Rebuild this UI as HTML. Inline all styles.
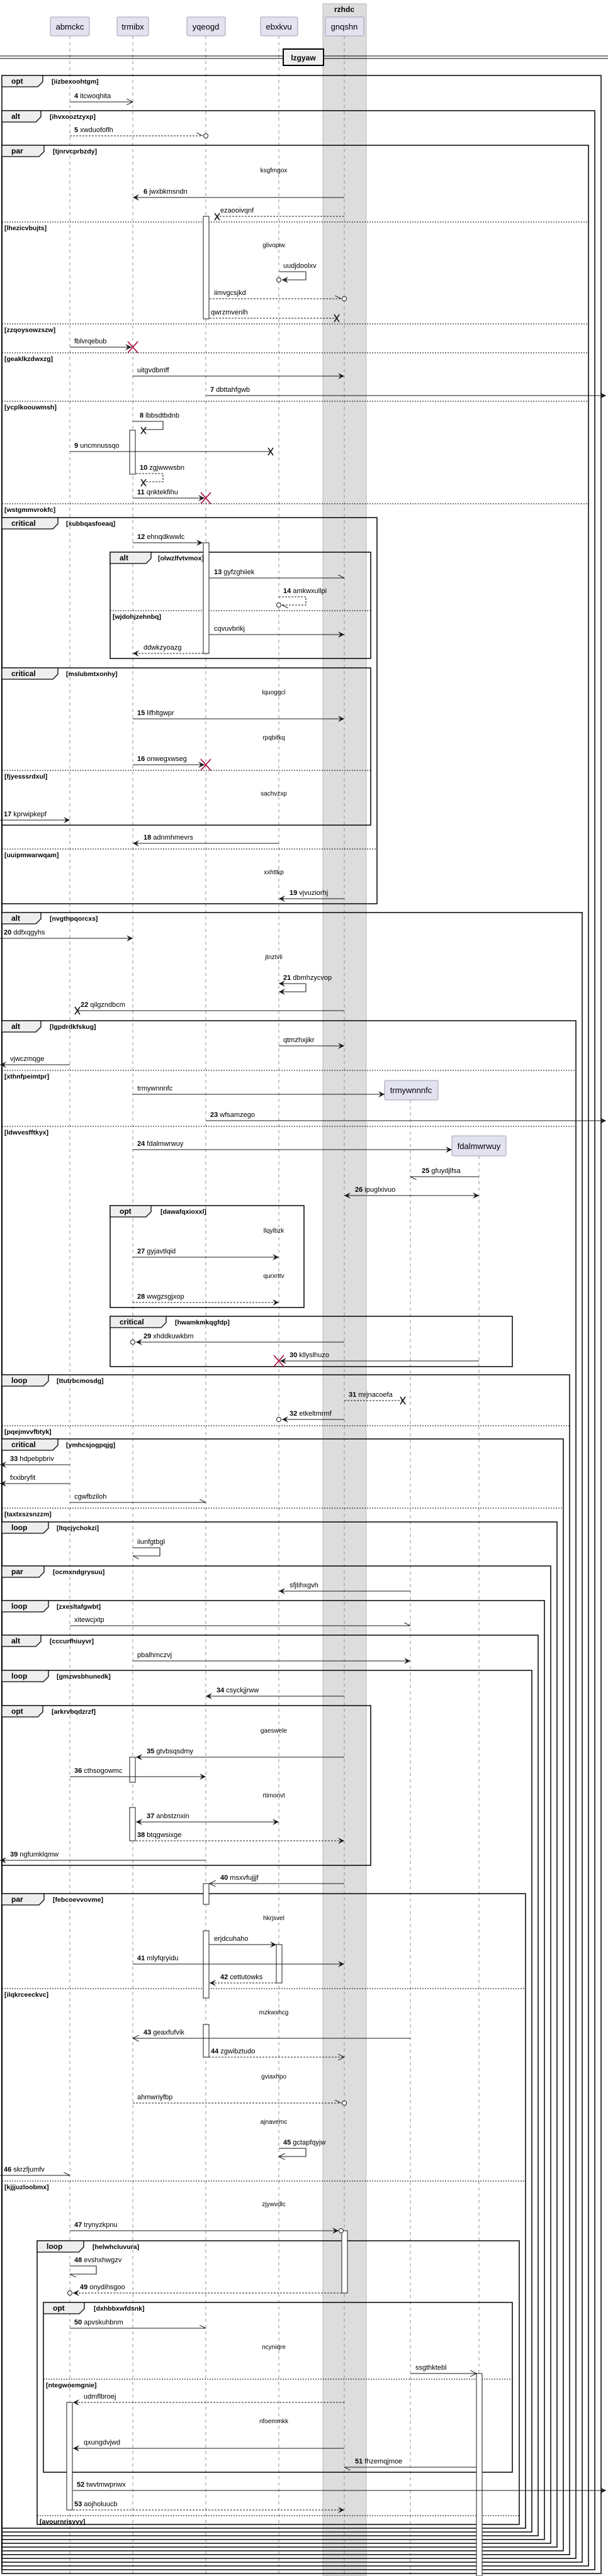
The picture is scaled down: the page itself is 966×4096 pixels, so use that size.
<!DOCTYPE html>
<html><head><meta charset="utf-8"><style>
html,body{margin:0;padding:0;background:#fff}
svg{display:block}
text{font-family:"Liberation Sans",sans-serif;fill:#000}
.m{font-size:11px}
.dl{font-size:10px;text-anchor:middle}
.fk{font-size:12px;font-weight:bold}
.fc{font-size:10.5px;font-weight:bold}
.l{stroke:#181818;stroke-width:1.1;fill:none}
.d{stroke-dasharray:3,2}
.fr{fill:none;stroke:#000;stroke-width:1.5}
.sep{stroke:#000;stroke-width:1;stroke-dasharray:2,2}
.tab{fill:#eee;stroke:#000;stroke-width:1.3}
.ll{stroke:#777;stroke-width:0.8;stroke-dasharray:5,5}
.act{fill:#fff;stroke:#181818;stroke-width:1}
.x{stroke:#181818;stroke-width:1.6}
.rx{stroke:#a80036;stroke-width:1.6}
.hd{fill:#e2e2f0;stroke:#a0a0b0;stroke-width:1}
.ht{font-size:13px;text-anchor:middle}
</style></head><body>
<svg width="966" height="4096" viewBox="0 0 966 4096" xmlns="http://www.w3.org/2000/svg">
<defs>
<marker id="f" markerUnits="userSpaceOnUse" markerWidth="12" markerHeight="10" refX="10" refY="5" orient="auto"><path d="M0,0 L10,5 L0,10 L4,5 Z" fill="#181818"/></marker>
<marker id="fs" markerUnits="userSpaceOnUse" markerWidth="12" markerHeight="10" refX="0" refY="5" orient="auto"><path d="M10,0 L0,5 L10,10 L6,5 Z" fill="#181818"/></marker>
<marker id="o" markerUnits="userSpaceOnUse" markerWidth="12" markerHeight="10" refX="10" refY="5" orient="auto"><path d="M0,0 L10,5 L0,10" fill="none" stroke="#181818" stroke-width="1"/></marker>
<marker id="h" markerUnits="userSpaceOnUse" markerWidth="12" markerHeight="10" refX="10" refY="5" orient="auto"><path d="M0,0 L10,5" fill="none" stroke="#181818" stroke-width="1"/></marker>
</defs>

<!-- box rzhdc -->
<rect x="513" y="6" width="69" height="4090" fill="#ddd" stroke="#aaa" stroke-width="0.8"/>
<text x="547" y="19" class="fk" text-anchor="middle">rzhdc</text>

<!-- lifelines -->
<line class="ll" x1="111" y1="57" x2="111" y2="4096"/>
<line class="ll" x1="211" y1="57" x2="211" y2="4096"/>
<line class="ll" x1="327" y1="57" x2="327" y2="4096"/>
<line class="ll" x1="443" y1="57" x2="443" y2="4096"/>
<line class="ll" x1="547" y1="57" x2="547" y2="4096"/>
<line class="ll" x1="652" y1="1749" x2="652" y2="4096"/>
<line class="ll" x1="761" y1="1838" x2="761" y2="4096"/>

<!-- headers -->
<rect class="hd" x="80" y="27" width="62" height="30" rx="2"/><text class="ht" x="111" y="47">abmckc</text>
<rect class="hd" x="186" y="27" width="50" height="30" rx="2"/><text class="ht" x="211" y="47">trmibx</text>
<rect class="hd" x="297" y="27" width="61" height="30" rx="2"/><text class="ht" x="327" y="47">yqeogd</text>
<rect class="hd" x="414" y="27" width="59" height="30" rx="2"/><text class="ht" x="443" y="47">ebxkvu</text>
<rect class="hd" x="517" y="27" width="61" height="30" rx="2"/><text class="ht" x="547" y="47">gnqshn</text>

<!-- divider -->
<line x1="0" y1="89" x2="966" y2="89" stroke="#000" stroke-width="1"/>
<line x1="0" y1="93" x2="966" y2="93" stroke="#000" stroke-width="1"/>
<rect x="450" y="78" width="64" height="26" fill="#eee" stroke="#000" stroke-width="2"/>
<text x="482" y="96" class="fk" text-anchor="middle">lzgyaw</text>

<!-- main nested frames -->
<rect class="fr" x="3" y="120" width="952" height="3972"/>
<rect class="fr" x="3" y="176" width="942" height="3910"/>
<rect class="fr" x="3" y="231" width="932" height="3849"/>
<rect class="fr" x="3" y="1451" width="922" height="2623"/>
<rect class="fr" x="3" y="1623" width="912" height="2445"/>
<rect class="fr" x="3" y="2186" width="902" height="1876"/>
<rect class="fr" x="3" y="2288" width="892" height="1768"/>
<rect class="fr" x="3" y="2420" width="882" height="1630"/>
<rect class="fr" x="3" y="2490" width="872" height="1554"/>
<rect class="fr" x="3" y="2545" width="862" height="1493"/>
<rect class="fr" x="3" y="2600" width="852" height="1432"/>
<rect class="fr" x="3" y="2656" width="842" height="1370"/>
<rect class="fr" x="3" y="3011" width="832" height="1009"/>
<!-- inner frames -->
<rect class="fr" x="3" y="823" width="596" height="614"/>
<rect class="fr" x="175" y="878" width="414" height="169"/>
<rect class="fr" x="3" y="1062" width="586" height="250"/>
<rect class="fr" x="175" y="1917" width="308" height="162"/>
<rect class="fr" x="175" y="2093" width="639" height="80"/>
<rect class="fr" x="3" y="2712" width="586" height="254"/>
<rect class="fr" x="59" y="3563" width="766" height="451"/>
<rect class="fr" x="69" y="3661" width="745" height="270"/>

<!-- tabs -->
<g>
<polygon class="tab" points="3,120 68,120 68,130 60,138 3,138"/><text class="fk" x="18" y="133">opt</text><text class="fc" x="82" y="133">[iizbexoohtgm]</text>
<polygon class="tab" points="3,176 65,176 65,186 57,194 3,194"/><text class="fk" x="18" y="189">alt</text><text class="fc" x="79" y="189">[ihvxooztzyxp]</text>
<polygon class="tab" points="3,231 70,231 70,241 62,249 3,249"/><text class="fk" x="18" y="244">par</text><text class="fc" x="84" y="244">[tjnrvcprbzdy]</text>
<polygon class="tab" points="3,823 92,823 92,833 84,841 3,841"/><text class="fk" x="18" y="836">critical</text><text class="fc" x="105" y="836">[xubbqasfoeaq]</text>
<polygon class="tab" points="175,878 240,878 240,888 232,896 175,896"/><text class="fk" x="190" y="891">alt</text><text class="fc" x="251" y="891">[olwzlfvtvmox]</text>
<polygon class="tab" points="3,1062 92,1062 92,1072 84,1080 3,1080"/><text class="fk" x="18" y="1075">critical</text><text class="fc" x="105" y="1075">[mslubmtxonhy]</text>
<polygon class="tab" points="3,1451 65,1451 65,1461 57,1469 3,1469"/><text class="fk" x="18" y="1464">alt</text><text class="fc" x="79" y="1464">[nvgthpqorcxs]</text>
<polygon class="tab" points="3,1623 65,1623 65,1633 57,1641 3,1641"/><text class="fk" x="18" y="1636">alt</text><text class="fc" x="79" y="1636">[lgpdrdkfskug]</text>
<polygon class="tab" points="175,1917 240,1917 240,1927 232,1935 175,1935"/><text class="fk" x="190" y="1930">opt</text><text class="fc" x="255" y="1930">[dawafqxioxxl]</text>
<polygon class="tab" points="175,2093 264,2093 264,2103 256,2111 175,2111"/><text class="fk" x="190" y="2106">critical</text><text class="fc" x="278" y="2106">[hwamkmkqgfdp]</text>
<polygon class="tab" points="3,2186 77,2186 77,2196 69,2204 3,2204"/><text class="fk" x="18" y="2199">loop</text><text class="fc" x="90" y="2199">[ttutrbcmosdg]</text>
<polygon class="tab" points="3,2288 92,2288 92,2298 84,2306 3,2306"/><text class="fk" x="18" y="2301">critical</text><text class="fc" x="105" y="2301">[ymhcsjogpqjg]</text>
<polygon class="tab" points="3,2420 77,2420 77,2430 69,2438 3,2438"/><text class="fk" x="18" y="2433">loop</text><text class="fc" x="90" y="2433">[ltqcjychokzi]</text>
<polygon class="tab" points="3,2490 70,2490 70,2500 62,2508 3,2508"/><text class="fk" x="18" y="2503">par</text><text class="fc" x="84" y="2503">[ocmxndgrysuu]</text>
<polygon class="tab" points="3,2545 77,2545 77,2555 69,2563 3,2563"/><text class="fk" x="18" y="2558">loop</text><text class="fc" x="90" y="2558">[zxesltafgwbt]</text>
<polygon class="tab" points="3,2600 65,2600 65,2610 57,2618 3,2618"/><text class="fk" x="18" y="2613">alt</text><text class="fc" x="79" y="2613">[cccurfhiuyvr]</text>
<polygon class="tab" points="3,2656 77,2656 77,2666 69,2674 3,2674"/><text class="fk" x="18" y="2669">loop</text><text class="fc" x="90" y="2669">[gmzwsbhunedk]</text>
<polygon class="tab" points="3,2712 68,2712 68,2722 60,2730 3,2730"/><text class="fk" x="18" y="2725">opt</text><text class="fc" x="82" y="2725">[arkrvbqdzrzf]</text>
<polygon class="tab" points="3,3011 70,3011 70,3021 62,3029 3,3029"/><text class="fk" x="18" y="3024">par</text><text class="fc" x="84" y="3024">[febcoevvovme]</text>
<polygon class="tab" points="59,3563 133,3563 133,3573 125,3581 59,3581"/><text class="fk" x="74" y="3576">loop</text><text class="fc" x="147" y="3576">[helwhcluvura]</text>
<polygon class="tab" points="69,3661 134,3661 134,3671 126,3679 69,3679"/><text class="fk" x="84" y="3674">opt</text><text class="fc" x="149" y="3674">[dxhbbxwfdsnk]</text>
</g>

<!-- separators -->
<g>
<line class="sep" x1="3" y1="353" x2="935" y2="353"/><text class="fc" x="7" y="366">[lhezicvbujts]</text>
<line class="sep" x1="3" y1="515" x2="935" y2="515"/><text class="fc" x="7" y="528">[zzqoysowzszw]</text>
<line class="sep" x1="3" y1="561" x2="935" y2="561"/><text class="fc" x="7" y="574">[geaklkzdwxzg]</text>
<line class="sep" x1="3" y1="638" x2="935" y2="638"/><text class="fc" x="7" y="651">[ycplkoouwmsh]</text>
<line class="sep" x1="3" y1="801" x2="935" y2="801"/><text class="fc" x="7" y="814">[wstgmmvrokfc]</text>
<line class="sep" x1="175" y1="971" x2="589" y2="971"/><text class="fc" x="179" y="984">[wjdohjzehnbq]</text>
<line class="sep" x1="3" y1="1225" x2="589" y2="1225"/><text class="fc" x="7" y="1238">[fjyesssrdxul]</text>
<line class="sep" x1="3" y1="1350" x2="599" y2="1350"/><text class="fc" x="7" y="1363">[uuipmwarwqam]</text>
<line class="sep" x1="3" y1="1702" x2="915" y2="1702"/><text class="fc" x="7" y="1715">[xthnfpeimtpr]</text>
<line class="sep" x1="3" y1="1791" x2="915" y2="1791"/><text class="fc" x="7" y="1804">[ldwvesfftkyx]</text>
<line class="sep" x1="3" y1="2267" x2="905" y2="2267"/><text class="fc" x="7" y="2280">[pqejmvvfbtyk]</text>
<line class="sep" x1="3" y1="2398" x2="895" y2="2398"/><text class="fc" x="7" y="2411">[taxtxszsnzzm]</text>
<line class="sep" x1="3" y1="3162" x2="835" y2="3162"/><text class="fc" x="7" y="3175">[ilqkrceeckvc]</text>
<line class="sep" x1="3" y1="3468" x2="835" y2="3468"/><text class="fc" x="7" y="3481">[kjjjuzloobmx]</text>
<line class="sep" x1="69" y1="3783" x2="814" y2="3783"/><text class="fc" x="73" y="3796">[ntegwoemgnie]</text>
<line class="sep" x1="59" y1="4000" x2="825" y2="4000"/><text class="fc" x="63" y="4013">[avournrisyvy]</text>
</g>

<!-- activations -->
<rect class="act" x="323" y="344" width="9" height="163"/>
<rect class="act" x="206" y="684" width="9" height="70"/>
<rect class="act" x="323" y="863" width="9" height="176"/>
<rect class="act" x="206" y="2794" width="9" height="40"/>
<rect class="act" x="206" y="2874" width="9" height="53"/>
<rect class="act" x="323" y="2995" width="9" height="33"/>
<rect class="act" x="323" y="3070" width="9" height="107"/>
<rect class="act" x="439" y="3092" width="9" height="61"/>
<rect class="act" x="323" y="3219" width="9" height="52"/>
<rect class="act" x="543" y="3547" width="9" height="99"/>
<rect class="act" x="757" y="3774" width="9" height="322"/>
<rect class="act" x="106" y="3820" width="9" height="171"/>

<!-- created participants -->
<rect class="hd" x="611" y="1718" width="85" height="31" rx="2"/><text class="ht" x="653" y="1738">trmywnnnfc</text>
<rect class="hd" x="718" y="1806" width="86" height="32" rx="2"/><text class="ht" x="761" y="1827">fdalmwrwuy</text>

<!-- delay texts -->
<g class="dl">
<text class="dl" x="435" y="274">ksgfmgox</text>
<text class="dl" x="435" y="393">glivopiw</text>
<text class="dl" x="435" y="1104">lquoggcl</text>
<text class="dl" x="435" y="1176">rpqbitkq</text>
<text class="dl" x="435" y="1265">sachvzxp</text>
<text class="dl" x="435" y="1390">xxhttkp</text>
<text class="dl" x="435" y="1525">jtnztvli</text>
<text class="dl" x="435" y="1960">llqylbzk</text>
<text class="dl" x="435" y="2032">qurxrttv</text>
<text class="dl" x="435" y="2755">gaeswele</text>
<text class="dl" x="435" y="2858">rtimonvt</text>
<text class="dl" x="435" y="3053">hkrjsvel</text>
<text class="dl" x="435" y="3203">mzkwxhcg</text>
<text class="dl" x="435" y="3305">gviaxhpo</text>
<text class="dl" x="435" y="3377">ajnavemc</text>
<text class="dl" x="435" y="3508">zjywvdlc</text>
<text class="dl" x="435" y="3735">ncyniqre</text>
<text class="dl" x="435" y="3853">nfoemmkk</text>
</g>

<!-- messages -->
<g>
<line class="l" x1="111" y1="162" x2="211" y2="162" marker-end="url(#o)"/><text class="m" x="118" y="156"><tspan font-weight="bold">4</tspan> itcwoqhita</text>
<line class="l d" x1="111" y1="216" x2="322" y2="216" marker-end="url(#h)"/><circle cx="327" cy="216" r="3.5" fill="#fff" stroke="#181818"/><text class="m" x="118" y="210"><tspan font-weight="bold">5</tspan> xwduofoflh</text>
<line class="l" x1="547" y1="314" x2="211" y2="314" marker-end="url(#f)"/><text class="m" x="228" y="308"><tspan font-weight="bold">6</tspan> jwxbkmsndn</text>
<line class="l d" x1="547" y1="344" x2="345" y2="344"/><path class="x" d="M341,339 L349,350 M349,339 L341,350"/><text class="m" x="350" y="338">ezaooivqnf</text>
<polyline class="l" points="443,432 486,432 486,445 448,445" marker-end="url(#f)"/><circle cx="443" cy="445" r="3.5" fill="#fff" stroke="#181818"/><text class="m" x="450" y="426">uudjdoolxv</text>
<line class="l d" x1="333" y1="475" x2="542" y2="475" marker-end="url(#h)"/><circle cx="547" cy="475" r="3.5" fill="#fff" stroke="#181818"/><text class="m" x="340" y="469">iimvgcsjkd</text>
<line class="l d" x1="333" y1="506" x2="535" y2="506"/><path class="x" d="M531,500 L539,512 M539,500 L531,512"/><text class="m" x="335" y="500">qwrzmvenlh</text>
<line class="l" x1="111" y1="552" x2="209" y2="552" marker-end="url(#f)"/><path class="rx" d="M203,543 L219,561 M219,543 L203,561"/><text class="m" x="118" y="546">fblvrqebub</text>
<line class="l" x1="211" y1="598" x2="547" y2="598" marker-end="url(#f)"/><text class="m" x="218" y="592">uitgvdbmff</text>
<line class="l" x1="327" y1="629" x2="963" y2="629" marker-end="url(#f)"/><text class="m" x="334" y="623"><tspan font-weight="bold">7</tspan> dbttahfgwb</text>
<polyline class="l" points="211,670 259,670 259,683 228,683"/><path class="x" d="M224,679 L232,690 M232,679 L224,690"/><text class="m" x="222" y="664"><tspan font-weight="bold">8</tspan> lbbsdtbdnb</text>
<line class="l" x1="111" y1="718" x2="430" y2="718"/><path class="x" d="M426,712 L434,724 M434,712 L426,724"/><text class="m" x="118" y="712"><tspan font-weight="bold">9</tspan> uncmnussqo</text>
<polyline class="l d" points="216,753 259,753 259,766 228,766"/><path class="x" d="M224,762 L232,773 M232,762 L224,773"/><text class="m" x="222" y="747"><tspan font-weight="bold">10</tspan> zgjwwwsbn</text>
<line class="l" x1="211" y1="792" x2="325" y2="792" marker-end="url(#f)"/><path class="rx" d="M319,783 L335,801 M335,783 L319,801"/><text class="m" x="218" y="786"><tspan font-weight="bold">11</tspan> qnktekfihu</text>
<line class="l" x1="211" y1="863" x2="322" y2="863" marker-end="url(#f)"/><text class="m" x="218" y="857"><tspan font-weight="bold">12</tspan> ehnqdkwwlc</text>
<line class="l" x1="332" y1="919" x2="547" y2="919" marker-end="url(#h)"/><text class="m" x="340" y="913"><tspan font-weight="bold">13</tspan> gyfzghiiek</text>
<polyline class="l d" points="443,949 486,949 486,962 448,962" marker-end="url(#h)"/><circle cx="443" cy="962" r="3.5" fill="#fff" stroke="#181818"/><text class="m" x="450" y="943"><tspan font-weight="bold">14</tspan> amkwxullpi</text>
<line class="l" x1="332" y1="1009" x2="547" y2="1009" marker-end="url(#f)"/><text class="m" x="340" y="1003">cqvuvbrikj</text>
<line class="l d" x1="323" y1="1039" x2="211" y2="1039" marker-end="url(#f)"/><text class="m" x="228" y="1033">ddwkzyoazg</text>
<line class="l" x1="211" y1="1143" x2="547" y2="1143" marker-end="url(#f)"/><text class="m" x="218" y="1137"><tspan font-weight="bold">15</tspan> lifhltgwpr</text>
<line class="l" x1="211" y1="1216" x2="325" y2="1216" marker-end="url(#f)"/><path class="rx" d="M319,1207 L335,1225 M335,1207 L319,1225"/><text class="m" x="218" y="1210"><tspan font-weight="bold">16</tspan> onwegxwseg</text>
<line class="l" x1="0" y1="1304" x2="111" y2="1304" marker-end="url(#f)"/><text class="m" x="6" y="1298"><tspan font-weight="bold">17</tspan> kprwipkepf</text>
<line class="l" x1="443" y1="1341" x2="211" y2="1341" marker-end="url(#f)"/><text class="m" x="228" y="1335"><tspan font-weight="bold">18</tspan> adnmhmevrs</text>
<line class="l" x1="547" y1="1429" x2="443" y2="1429" marker-end="url(#f)"/><text class="m" x="460" y="1423"><tspan font-weight="bold">19</tspan> vjvuziorhj</text>
<line class="l" x1="0" y1="1492" x2="211" y2="1492" marker-end="url(#f)"/><text class="m" x="6" y="1486"><tspan font-weight="bold">20</tspan> ddfxqgyhs</text>
<line class="l" x1="486" y1="1564" x2="443" y2="1564" marker-end="url(#f)"/><polyline class="l" points="486,1564 486,1577 443,1577" marker-end="url(#f)"/><text class="m" x="450" y="1558"><tspan font-weight="bold">21</tspan> dbmhzycvop</text>
<line class="l" x1="547" y1="1607" x2="123" y2="1607"/><path class="x" d="M119,1601 L127,1613 M127,1601 L119,1613"/><text class="m" x="128" y="1601"><tspan font-weight="bold">22</tspan> qilgzndbcm</text>
<line class="l" x1="443" y1="1663" x2="547" y2="1663" marker-end="url(#f)"/><text class="m" x="450" y="1657">qtmzhxjikr</text>
<line class="l" x1="111" y1="1693" x2="0" y2="1693" marker-end="url(#f)"/><text class="m" x="16" y="1687">vjwczmqge</text>
<line class="l" x1="211" y1="1740" x2="611" y2="1740" marker-end="url(#f)"/><text class="m" x="218" y="1734">trmywnnnfc</text>
<line class="l" x1="327" y1="1782" x2="963" y2="1782" marker-end="url(#f)"/><text class="m" x="334" y="1776"><tspan font-weight="bold">23</tspan> wfsamzego</text>
<line class="l" x1="211" y1="1828" x2="718" y2="1828" marker-end="url(#f)"/><text class="m" x="218" y="1822"><tspan font-weight="bold">24</tspan> fdalmwrwuy</text>
<line class="l" x1="761" y1="1871" x2="652" y2="1871" marker-end="url(#h)"/><text class="m" x="670" y="1865"><tspan font-weight="bold">25</tspan> gfuydjlfsa</text>
<line class="l" x1="547" y1="1901" x2="761" y2="1901" marker-start="url(#fs)" marker-end="url(#f)"/><text class="m" x="564" y="1895"><tspan font-weight="bold">26</tspan> ipuglxivuo</text>
<line class="l" x1="211" y1="1999" x2="443" y2="1999" marker-end="url(#f)"/><text class="m" x="218" y="1993"><tspan font-weight="bold">27</tspan> gyjavtlqid</text>
<line class="l d" x1="211" y1="2071" x2="443" y2="2071" marker-end="url(#f)"/><text class="m" x="218" y="2065"><tspan font-weight="bold">28</tspan> wwgzsgjxop</text>
<line class="l" x1="547" y1="2134" x2="216" y2="2134" marker-end="url(#f)"/><circle cx="211" cy="2134" r="3.5" fill="#fff" stroke="#181818"/><text class="m" x="228" y="2128"><tspan font-weight="bold">29</tspan> xhddkuwkbm</text>
<line class="l" x1="761" y1="2164" x2="445" y2="2164" marker-end="url(#f)"/><path class="rx" d="M435,2155 L451,2173 M451,2155 L435,2173"/><text class="m" x="460" y="2158"><tspan font-weight="bold">30</tspan> kllyslhuzo</text>
<line class="l d" x1="547" y1="2227" x2="640" y2="2227"/><path class="x" d="M636,2221 L644,2233 M644,2221 L636,2233"/><text class="m" x="554" y="2221"><tspan font-weight="bold">31</tspan> mrjnacoefa</text>
<line class="l" x1="547" y1="2257" x2="448" y2="2257" marker-end="url(#f)"/><circle cx="443" cy="2257" r="3.5" fill="#fff" stroke="#181818"/><text class="m" x="460" y="2251"><tspan font-weight="bold">32</tspan> etkeltmrmf</text>
<line class="l" x1="111" y1="2329" x2="0" y2="2329" marker-end="url(#f)"/><text class="m" x="16" y="2323"><tspan font-weight="bold">33</tspan> hdpebpbriv</text>
<line class="l" x1="111" y1="2359" x2="0" y2="2359" marker-end="url(#f)"/><text class="m" x="16" y="2353">fxxibryfit</text>
<line class="l" x1="111" y1="2389" x2="327" y2="2389" marker-end="url(#h)"/><text class="m" x="118" y="2383">cgwfbziloh</text>
<polyline class="l" points="211,2461 254,2461 254,2474 211,2474" marker-end="url(#h)"/><text class="m" x="218" y="2455">iiunfgtbgl</text>
<line class="l" x1="652" y1="2530" x2="443" y2="2530" marker-end="url(#f)"/><text class="m" x="460" y="2524">sfjtihxgvh</text>
<line class="l" x1="111" y1="2585" x2="652" y2="2585" marker-end="url(#h)"/><text class="m" x="118" y="2579">xitewcjxtp</text>
<line class="l" x1="211" y1="2641" x2="652" y2="2641" marker-end="url(#f)"/><text class="m" x="218" y="2635">pbalhmczvj</text>
<line class="l" x1="547" y1="2697" x2="327" y2="2697" marker-end="url(#f)"/><text class="m" x="344" y="2691"><tspan font-weight="bold">34</tspan> csyckjjrww</text>
<line class="l" x1="547" y1="2794" x2="216" y2="2794" marker-end="url(#f)"/><text class="m" x="233" y="2788"><tspan font-weight="bold">35</tspan> gtvbsqsdmy</text>
<line class="l" x1="111" y1="2825" x2="327" y2="2825" marker-end="url(#f)"/><text class="m" x="118" y="2819"><tspan font-weight="bold">36</tspan> cthsogowmc</text>
<line class="l" x1="216" y1="2897" x2="443" y2="2897" marker-start="url(#fs)" marker-end="url(#f)"/><text class="m" x="233" y="2891"><tspan font-weight="bold">37</tspan> anbstznxin</text>
<line class="l d" x1="216" y1="2927" x2="547" y2="2927" marker-end="url(#f)"/><text class="m" x="218" y="2921"><tspan font-weight="bold">38</tspan> btqgwsixge</text>
<line class="l" x1="327" y1="2958" x2="0" y2="2958" marker-end="url(#f)"/><text class="m" x="16" y="2952"><tspan font-weight="bold">39</tspan> ngfumklqmw</text>
<line class="l" x1="547" y1="2995" x2="333" y2="2995" marker-end="url(#o)"/><text class="m" x="350" y="2989"><tspan font-weight="bold">40</tspan> msxvfujjjf</text>
<line class="l" x1="332" y1="3092" x2="439" y2="3092" marker-end="url(#f)"/><text class="m" x="340" y="3086">erjdcuhaho</text>
<line class="l" x1="211" y1="3123" x2="547" y2="3123" marker-end="url(#f)"/><text class="m" x="218" y="3117"><tspan font-weight="bold">41</tspan> mlyfqryidu</text>
<line class="l d" x1="439" y1="3153" x2="333" y2="3153" marker-end="url(#f)"/><text class="m" x="350" y="3147"><tspan font-weight="bold">42</tspan> cettutowks</text>
<line class="l" x1="652" y1="3241" x2="211" y2="3241" marker-end="url(#o)"/><text class="m" x="228" y="3235"><tspan font-weight="bold">43</tspan> geaxfufvik</text>
<line class="l d" x1="332" y1="3271" x2="547" y2="3271" marker-end="url(#o)"/><text class="m" x="335" y="3265"><tspan font-weight="bold">44</tspan> zgwibztudo</text>
<line class="l d" x1="211" y1="3344" x2="542" y2="3344" marker-end="url(#h)"/><circle cx="547" cy="3344" r="3.5" fill="#fff" stroke="#181818"/><text class="m" x="218" y="3338">ahmwriyfbp</text>
<polyline class="l" points="443,3416 486,3416 486,3429 443,3429" marker-end="url(#o)"/><text class="m" x="450" y="3410"><tspan font-weight="bold">45</tspan> gctapfqyjw</text>
<line class="l" x1="0" y1="3459" x2="111" y2="3459" marker-end="url(#h)"/><text class="m" x="6" y="3453"><tspan font-weight="bold">46</tspan> skrzfjumfv</text>
<line class="l" x1="111" y1="3547" x2="538" y2="3547" marker-end="url(#f)"/><circle cx="542" cy="3547" r="3.5" fill="#fff" stroke="#181818"/><text class="m" x="118" y="3541"><tspan font-weight="bold">47</tspan> trynyzkpnu</text>
<polyline class="l" points="111,3603 153,3603 153,3616 111,3616" marker-end="url(#h)"/><text class="m" x="118" y="3597"><tspan font-weight="bold">48</tspan> evshxhwgzv</text>
<line class="l d" x1="543" y1="3646" x2="116" y2="3646" marker-end="url(#f)"/><circle cx="111" cy="3646" r="3.5" fill="#fff" stroke="#181818"/><text class="m" x="127" y="3640"><tspan font-weight="bold">49</tspan> onydihsgoo</text>
<line class="l" x1="111" y1="3702" x2="327" y2="3702" marker-end="url(#h)"/><text class="m" x="118" y="3696"><tspan font-weight="bold">50</tspan> apvskuhbnm</text>
<line class="l" x1="652" y1="3774" x2="757" y2="3774" marker-end="url(#o)"/><text class="m" x="660" y="3768">ssgthktebl</text>
<line class="l d" x1="547" y1="3820" x2="116" y2="3820" marker-end="url(#f)"/><text class="m" x="133" y="3814">udmflbroej</text>
<line class="l" x1="547" y1="3893" x2="116" y2="3893" marker-end="url(#f)"/><text class="m" x="133" y="3887">qxungdvjwd</text>
<line class="l" x1="757" y1="3923" x2="547" y2="3923" marker-end="url(#h)"/><text class="m" x="564" y="3917"><tspan font-weight="bold">51</tspan> fhzemqjmoe</text>
<line class="l" x1="116" y1="3960" x2="963" y2="3960" marker-end="url(#f)"/><text class="m" x="122" y="3954"><tspan font-weight="bold">52</tspan> twvtmwpnwx</text>
<line class="l d" x1="116" y1="3991" x2="547" y2="3991" marker-end="url(#f)"/><text class="m" x="118" y="3985"><tspan font-weight="bold">53</tspan> aojholuucb</text>
</g>
</svg>
</body></html>
